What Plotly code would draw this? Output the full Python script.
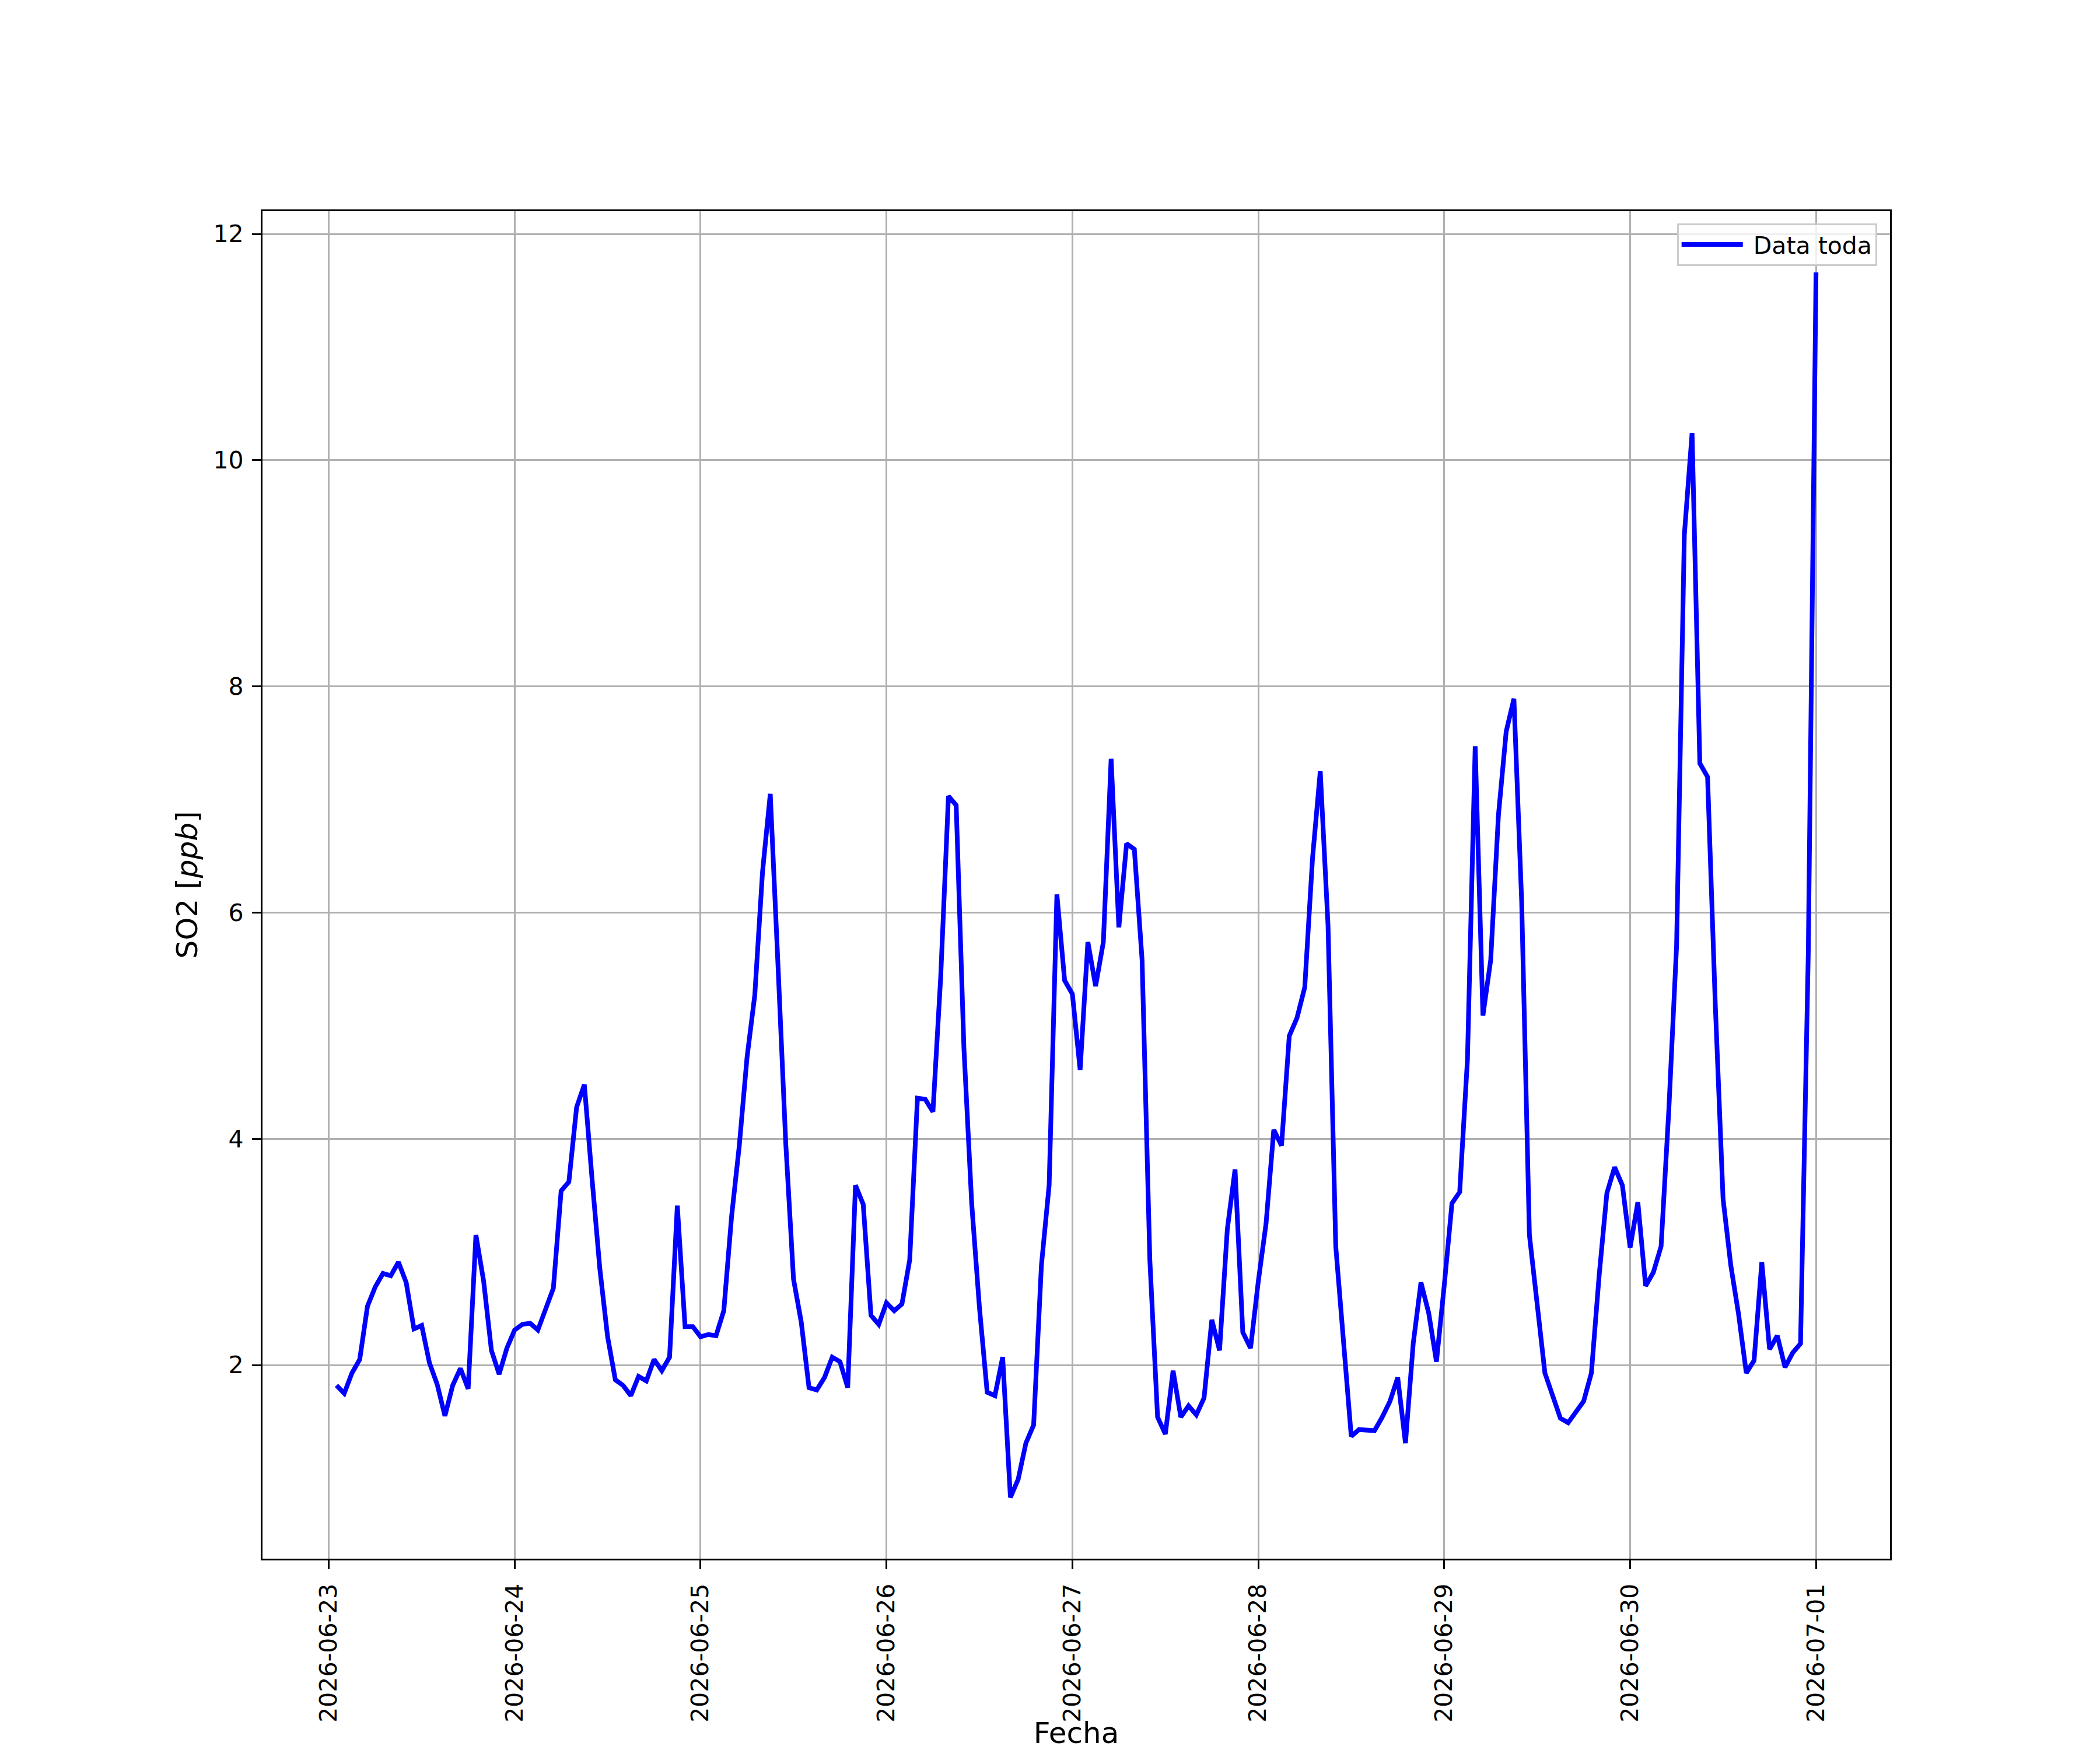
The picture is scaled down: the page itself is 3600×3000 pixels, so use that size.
import pandas as pd
import plotly.graph_objects as go

# SO2 horario, desde 2026-06-23 01:00
inicio = "2026-06-23 01:00"

so2_dia_23 = [1.82, 1.75, 1.93, 2.05, 2.52, 2.69, 2.81, 2.79, 2.91, 2.73, 2.32, 2.35,
              2.02, 1.83, 1.55, 1.82, 1.97, 1.79, 3.15, 2.74, 2.13, 1.92, 2.15, 2.31]
so2_dia_24 = [2.36, 2.37, 2.31, 2.50, 2.68, 3.54, 3.62, 4.28, 4.48, 3.64, 2.85, 2.25,
              1.87, 1.82, 1.73, 1.90, 1.86, 2.05, 1.95, 2.07, 3.41, 2.34, 2.34, 2.25]
so2_dia_25 = [2.27, 2.26, 2.48, 3.31, 3.94, 4.72, 5.27, 6.36, 7.05, 5.53, 3.96, 2.76,
              2.38, 1.80, 1.78, 1.89, 2.07, 2.03, 1.80, 3.59, 3.42, 2.44, 2.36, 2.55]
so2_dia_26 = [2.48, 2.54, 2.93, 4.36, 4.35, 4.24, 5.43, 7.03, 6.95, 4.80, 3.43, 2.51,
              1.76, 1.73, 2.07, 0.83, 0.99, 1.31, 1.47, 2.88, 3.59, 6.16, 5.40, 5.28]
so2_dia_27 = [4.61, 5.74, 5.35, 5.74, 7.36, 5.87, 6.61, 6.56, 5.58, 2.93, 1.54, 1.39,
              1.95, 1.54, 1.64, 1.56, 1.71, 2.40, 2.13, 3.20, 3.73, 2.29, 2.15, 2.74]
so2_dia_28 = [3.25, 4.08, 3.94, 4.91, 5.07, 5.34, 6.48, 7.25, 5.89, 3.05, 2.21, 1.37,
              1.43, 1.43, 1.42, 1.54, 1.68, 1.89, 1.31, 2.19, 2.73, 2.46, 2.03, 2.70]
so2_dia_29 = [3.43, 3.53, 4.70, 7.47, 5.09, 5.58, 6.86, 7.60, 7.89, 6.10, 3.15, 2.54,
              1.93, 1.73, 1.53, 1.49, 1.58, 1.68, 1.93, 2.79, 3.52, 3.75, 3.59, 3.04]
so2_dia_30 = [3.44, 2.70, 2.82, 3.05, 4.26, 5.71, 9.34, 10.24, 7.32, 7.20, 5.18, 3.47,
              2.88, 2.45, 1.93, 2.04, 2.91, 2.14, 2.26, 1.98, 2.11, 2.19, 5.64, 11.66]

so2 = (so2_dia_23 + so2_dia_24 + so2_dia_25 + so2_dia_26
       + so2_dia_27 + so2_dia_28 + so2_dia_29 + so2_dia_30)
fechas = pd.date_range(inicio, periods=len(so2), freq="h")

# margenes tipo matplotlib (5%)
dx = (fechas[-1] - fechas[0]) * 0.05
dy = (max(so2) - min(so2)) * 0.05
rango_x = [fechas[0] - dx, fechas[-1] + dx]
rango_y = [min(so2) - dy, max(so2) + dy]

fuente = "DejaVu Sans"

fig = go.Figure()
fig.add_trace(go.Scatter(x=fechas, y=so2, mode="lines", name="\u00a0Data toda",
                         line=dict(color="blue", width=8)))

eje = dict(showline=True, mirror=True, linecolor="black", linewidth=3.3,
           showgrid=True, gridcolor="#b0b0b0", gridwidth=3,
           ticks="outside", ticklen=15, tickwidth=3.3, tickcolor="black",
           tickfont=dict(family=fuente, size=41, color="black"),
           zeroline=False)

fig.update_xaxes(eje, range=rango_x, type="date",
                 tick0="2026-06-23", dtick=86400000, tickformat="%Y-%m-%d",
                 tickangle=-90, ticklabelstandoff=8,
                 title=dict(text="Fecha", font=dict(family=fuente, size=50, color="black"),
                            standoff=22))
fig.update_yaxes(eje, range=rango_y, tick0=0, dtick=2, ticklabelstandoff=6,
                 title=dict(text="SO2 [<i>ppb</i>]",
                            font=dict(family=fuente, size=50, color="black"),
                            standoff=11))

# la pagina deja 8px de margen en el body
fig.update_layout(width=3592, height=2992,
                  margin=dict(l=442, r=360, t=354, b=328, autoexpand=False),
                  plot_bgcolor="white", paper_bgcolor="white",
                  showlegend=True,
                  legend=dict(x=0.992, y=0.991, xanchor="right", yanchor="top",
                              bgcolor="rgba(255,255,255,0.8)", bordercolor="#cccccc",
                              borderwidth=3, itemwidth=105,
                              font=dict(family=fuente, size=41, color="black")))

fig.write_html("out.html")
